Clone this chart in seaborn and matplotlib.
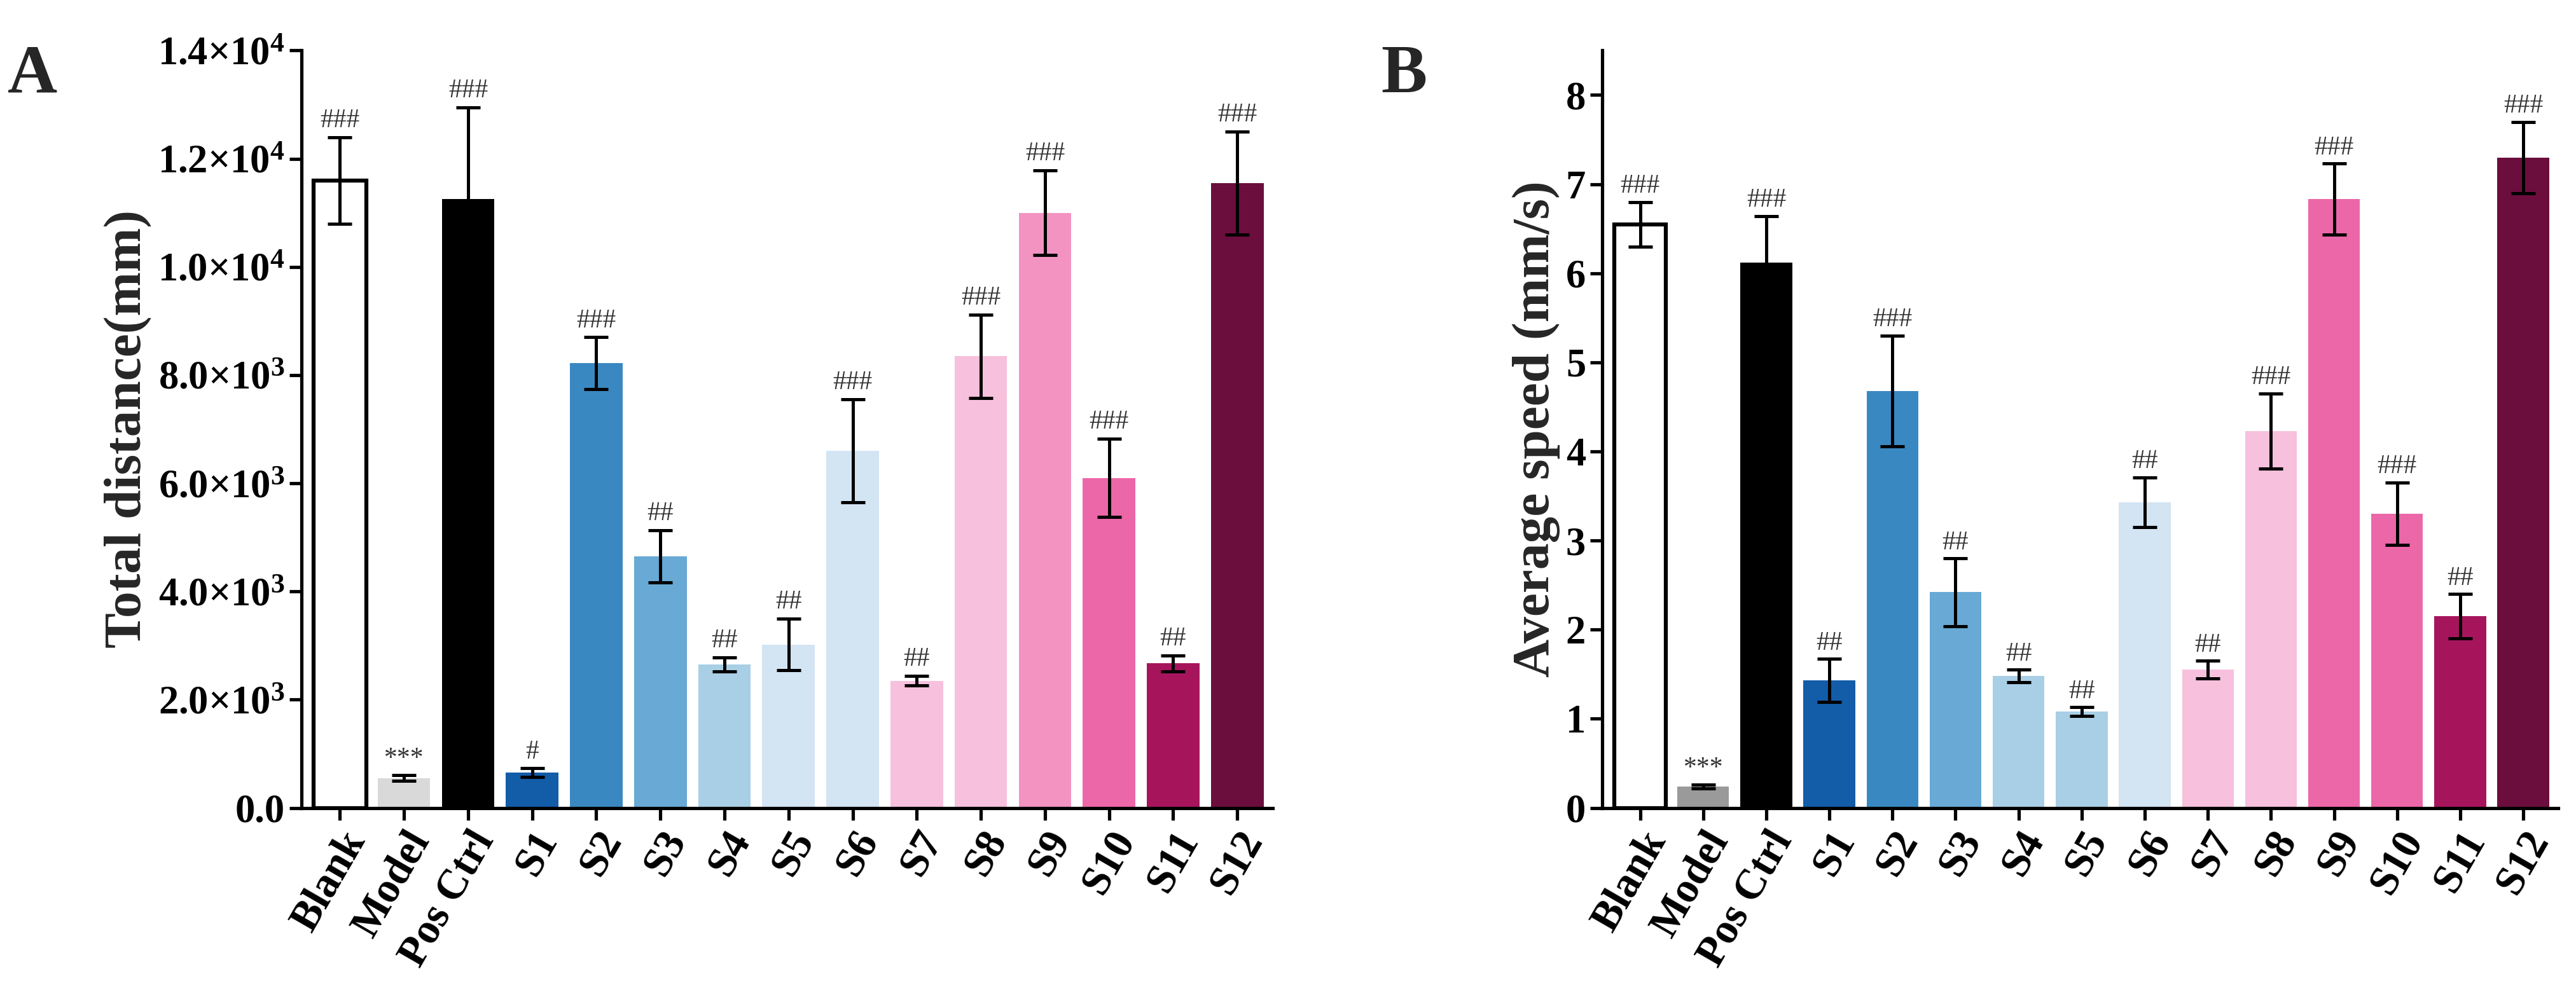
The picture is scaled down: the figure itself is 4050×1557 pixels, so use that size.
import numpy as np
import pandas as pd
import matplotlib
matplotlib.use("Agg")
import matplotlib.pyplot as plt
import seaborn as sns

groups = ["Blank", "Model", "Pos Ctrl", "S1", "S2", "S3", "S4", "S5", "S6",
          "S7", "S8", "S9", "S10", "S11", "S12"]

dist_mean = [11600, 550, 11250, 650, 8220, 4650, 2650, 3020, 6600,
             2350, 8350, 11000, 6100, 2670, 11550]
dist_err = [800, 50, 1700, 80, 480, 480, 130, 480, 950,
            90, 770, 780, 720, 150, 950]
dist_sig = ["###", "***", "###", "#", "###", "##", "##", "##", "###",
            "##", "###", "###", "###", "##", "###"]

speed_mean = [6.55, 0.24, 6.12, 1.43, 4.68, 2.42, 1.48, 1.08, 3.43,
              1.55, 4.23, 6.83, 3.30, 2.15, 7.30]
speed_err = [0.25, 0.02, 0.52, 0.24, 0.62, 0.38, 0.07, 0.05, 0.28,
             0.10, 0.42, 0.40, 0.35, 0.25, 0.40]
speed_sig = ["###", "***", "###", "##", "###", "##", "##", "##", "##",
             "##", "###", "###", "###", "##", "###"]

colors_a = ["#ffffff", "#d9d9d9", "#000000", "#125ca8", "#3a88c2", "#68a9d5",
            "#a8cfe5", "#d3e4f3", "#d3e4f3", "#f7c0dc", "#f7c0dc", "#f293c2",
            "#ec67a8", "#a6155c", "#6b0e3d"]
colors_b = ["#ffffff", "#9a9a9a", "#000000", "#125ca8", "#3a88c2", "#68a9d5",
            "#a8cfe5", "#a8cfe5", "#d3e4f3", "#f7c0dc", "#f7c0dc", "#ec67a8",
            "#ec67a8", "#a6155c", "#6b0e3d"]

sns.set_style("ticks")
plt.rcParams['font.family'] = ['Liberation Serif', 'DejaVu Serif']
plt.rcParams['font.weight'] = 'bold'
plt.rcParams['mathtext.fontset'] = 'custom'
plt.rcParams['mathtext.rm'] = 'Liberation Serif:bold'
plt.rcParams['mathtext.default'] = 'rm'

fig = plt.figure(figsize=(27, 10.38), dpi=150)
ax_a = fig.add_axes([0.117, 0.184, 0.377, 0.765])
ax_b = fig.add_axes([0.622, 0.184, 0.371, 0.765])


def draw(ax, mean, err, sig, colors, ymax, off):
    df = pd.DataFrame({"group": groups, "value": mean})
    sns.barplot(data=df, x="group", y="value", hue="group", palette=colors,
                legend=False, width=0.82, ax=ax, errorbar=None, saturation=1,
                edgecolor="none", linewidth=0)
    # blank bar has a black outline
    ax.patches[0].set_edgecolor("black")
    ax.patches[0].set_linewidth(3)
    x = np.arange(len(groups))
    ax.errorbar(x, mean, yerr=err, fmt="none", ecolor="black", elinewidth=2.4,
                capsize=9, capthick=2.4)
    for xi, m, e, s in zip(x, mean, err, sig):
        ax.text(xi, m + e + off, s, ha="center", va="bottom", fontsize=20,
                fontweight="normal", color="#333333")
    ax.set_xlim(-0.6, len(groups) - 0.45)
    ax.set_ylim(0, ymax)
    ax.set_xlabel("")
    sns.despine(ax=ax)
    for sp in ("left", "bottom"):
        ax.spines[sp].set_linewidth(2.5)
        ax.spines[sp].set_color("black")
    ax.tick_params(axis="both", width=2.5, length=9, labelsize=30, colors="black")
    ax.set_xticks(x)
    ax.set_xticklabels(groups, rotation=60, ha="right", rotation_mode="anchor",
                       fontsize=32, fontweight="bold")


draw(ax_a, dist_mean, dist_err, dist_sig, colors_a, 14000, 80)
ax_a.set_yticks(np.arange(0, 14001, 2000))
ax_a.set_yticklabels(["0.0"] + [r"$%.1f{\times}10^{%d}$" % ((v / 1000, 3) if v < 10000 else (v / 10000, 4))
                                for v in range(2000, 14001, 2000)], fontsize=30)
ax_a.set_ylabel("Total distance(mm)", fontsize=40, fontweight="bold")

draw(ax_b, speed_mean, speed_err, speed_sig, colors_b, 8.5, 0.04)
ax_b.set_yticks(range(0, 9))
ax_b.set_ylabel("Average speed (mm/s)", fontsize=40, fontweight="bold")

fig.text(0.003, 0.955, "A", fontsize=52, fontweight="bold", va="top")
fig.text(0.536, 0.955, "B", fontsize=52, fontweight="bold", va="top")

fig.savefig("out.png", dpi=150)
